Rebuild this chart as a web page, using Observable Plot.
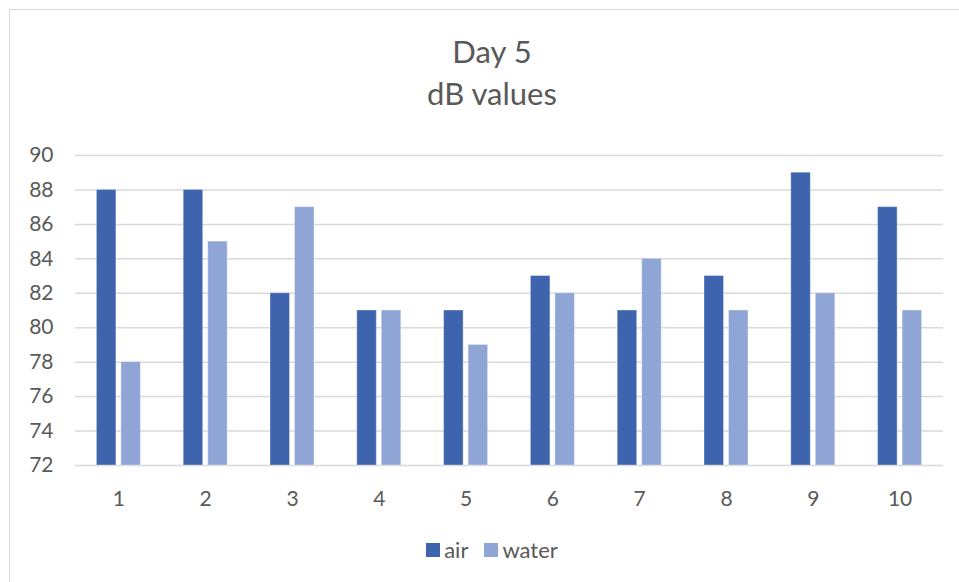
<!DOCTYPE html>
<html>
<head>
<meta charset="utf-8">
<script src="https://cdn.jsdelivr.net/npm/d3@7"></script>
<script src="https://cdn.jsdelivr.net/npm/@observablehq/plot@0.6"></script>
<style>
  html, body { margin: 0; padding: 0; background: #fff; overflow: hidden; }
  #wrap { position: relative; width: 959px; height: 582px; font-family: Lato, "Noto Sans", sans-serif; color: #595959; }
  #border { position: absolute; left: 9px; top: 9px; width: 1000px; height: 620px; border: 1.5px solid #d9d9d9; box-sizing: border-box; }
  #chart { position: absolute; left: 0; top: 0; }
  #title { position: absolute; left: 0; width: 984px; top: 30px; text-align: center; font-size: 31px; line-height: 42px; }
  #legend { position: absolute; left: 0; width: 984px; top: 536px; display: flex; justify-content: center; align-items: center; font-size: 22px; }
  .sw { display: inline-block; width: 14px; height: 14px; margin-right: 4px; }
  .item { display: inline-flex; align-items: center; margin: 0 8px; }
</style>
</head>
<body>
<div id="wrap">
  <div id="border"></div>
  <div id="chart"></div>
  <div id="title"></div>
  <div id="legend"></div>
</div>
<script>
const titleLines = ["Day 5", "dB values"];
const categories = ["1", "2", "3", "4", "5", "6", "7", "8", "9", "10"];
const seriesNames = ["air", "water"];
const air = [88, 88, 82, 81, 81, 83, 81, 83, 89, 87];
const water = [78, 85, 87, 81, 79, 82, 84, 81, 82, 81];
const yTicks = [72, 74, 76, 78, 80, 82, 84, 86, 88, 90];
const colors = ["#3d64ad", "#8fa5d5"];

const rows = categories.map((c, i) => ({cat: c, air: air[i], water: water[i]}));
const yMin = yTicks[0];

const plot = Plot.plot({
  width: 959,
  height: 582,
  marginTop: 155,
  marginBottom: 117,
  marginLeft: 75,
  marginRight: 16,
  style: {fontFamily: "Lato, 'Noto Sans', sans-serif", fontSize: "20px", color: "#595959", background: "transparent"},
  x: {type: "band", domain: categories, paddingInner: 0.493, paddingOuter: 0.2465, round: false, label: null},
  y: {domain: [yTicks[0], yTicks[yTicks.length - 1]], label: null},
  marks: [
    Plot.gridY(yTicks, {stroke: "#d9d9d9", strokeOpacity: 1, strokeWidth: 1.5}),
    Plot.barY(rows, {x: "cat", y1: yMin, y2: "air", fill: colors[0], insetRight: 24.5, stroke: "white", strokeOpacity: 0.35, strokeWidth: 1}),
    Plot.barY(rows, {x: "cat", y1: yMin, y2: "water", fill: colors[1], insetLeft: 24.5, stroke: "white", strokeOpacity: 0.35, strokeWidth: 1}),
    Plot.axisY(yTicks, {tickSize: 0, tickPadding: 22, fill: "#595959", fontSize: 21, label: null}),
    Plot.axisX({tickSize: 0, tickPadding: 26, fill: "#595959", fontSize: 21, label: null})
  ]
});
document.getElementById("chart").appendChild(plot);

document.getElementById("title").innerHTML = titleLines.map(t => `<div>${t}</div>`).join("");
document.getElementById("legend").innerHTML = seriesNames.map((s, i) =>
  `<span class="item"><span class="sw" style="background:${colors[i]}"></span>${s}</span>`).join("");
</script>
</body>
</html>
